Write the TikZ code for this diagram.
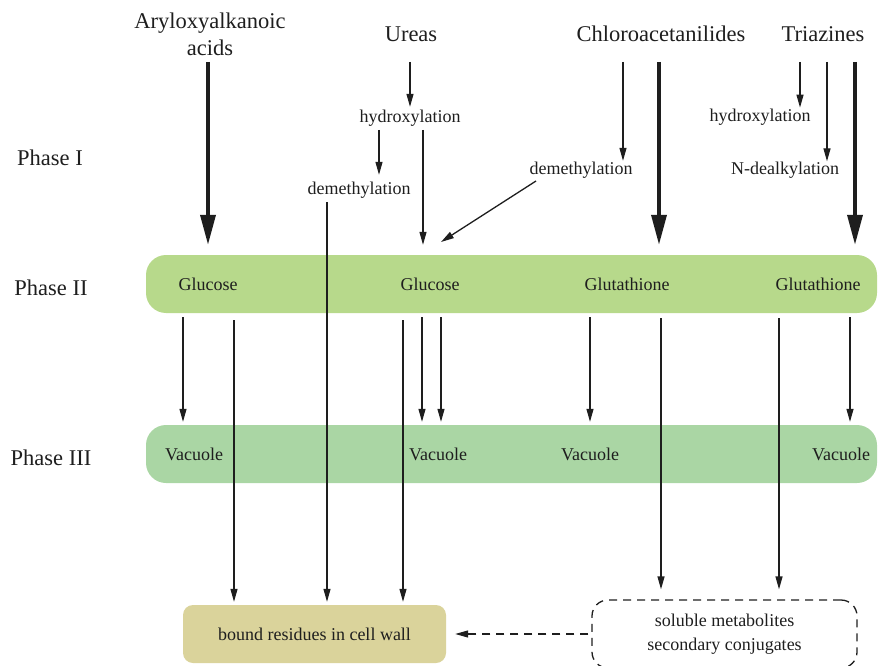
\documentclass[tikz,border=0pt]{standalone}
\usepackage{fontspec}
\setmainfont{Liberation Serif}
\usetikzlibrary{arrows.meta}
\definecolor{bandA}{HTML}{B7D98B}
\definecolor{bandB}{HTML}{AAD6A4}
\definecolor{boundc}{HTML}{DAD39B}
\definecolor{txt}{HTML}{1E1E1E}
\newcommand\bigf{\fontsize{22.5}{27}\selectfont}
\newcommand\smallf{\fontsize{18}{24}\selectfont}
\tikzset{
  biglabel/.style={font=\bigf, text=txt, inner sep=0pt, anchor=base},
  smalllabel/.style={font=\smallf, text=txt, inner sep=0pt, anchor=base},
  band/.style={rounded corners=20pt, minimum width=731pt, minimum height=58pt, inner sep=0pt},
  thinarr/.style={line width=1.3pt, draw=txt, -{Triangle[length=13pt,width=7pt]}},
  bigarr/.style={line width=3.6pt, draw=txt, -{Triangle[length=30pt,width=15pt]}},
  dasharr/.style={line width=1.3pt, draw=txt, dash pattern=on 8pt off 6pt, -{Triangle[length=13pt,width=7pt]}},
}
\begin{document}
\begin{tikzpicture}[x=1pt,y=-1pt]
\path[use as bounding box] (0,0) rectangle (878,666);

% bands
\node[band, fill=bandA] (p2) at (511.5,284) {};
\node[band, fill=bandB] (p3) at (511.5,454) {};
\node[rounded corners=10pt, fill=boundc, minimum width=263pt, minimum height=58pt, inner sep=0pt,
      font=\smallf, text=txt] (bound) at (314.5,634) {bound residues in cell wall};
\node[rounded corners=16pt, draw=txt, line width=1.3pt, dash pattern=on 8pt off 6pt,
      minimum width=265pt, minimum height=68pt, inner sep=0pt, align=center,
      font=\smallf, text=txt] (sol) at (724.5,634) {soluble metabolites\\secondary conjugates};

% top labels
\node[biglabel] (aryl1) at (210,29) {Aryloxyalkanoic};
\node[biglabel] (aryl2) at (210,56) {acids};
\node[biglabel] (ureas) at (411,42) {Ureas};
\node[biglabel] (chloro) at (661,42) {Chloroacetanilides};
\node[biglabel] (tri) at (823,42) {Triazines};

% phase labels
\node[biglabel] (ph1) at (50,165) {Phase I};
\node[biglabel] (ph2) at (51,295) {Phase II};
\node[biglabel] (ph3) at (51,465) {Phase III};

% phase I intermediates
\node[smalllabel] (hydA) at (410,123) {hydroxylation};
\node[smalllabel] (demA) at (359,194) {demethylation};
\node[smalllabel] (demB) at (581,175) {demethylation};
\node[smalllabel] (hydB) at (760,122) {hydroxylation};
\node[smalllabel] (ndeal) at (785,175) {N-dealkylation};

% band labels
\node[smalllabel] (glu1) at (208,290) {Glucose};
\node[smalllabel] (glu2) at (430,290) {Glucose};
\node[smalllabel] (gth1) at (627,290) {Glutathione};
\node[smalllabel] (gth2) at (818,290) {Glutathione};
\node[smalllabel] (vac1) at (194,460) {Vacuole};
\node[smalllabel] (vac2) at (438,460) {Vacuole};
\node[smalllabel] (vac3) at (590,460) {Vacuole};
\node[smalllabel] (vac4) at (841,460) {Vacuole};

% start coordinates
\coordinate (arylS) at (208,62);
\coordinate (chlT) at (659,62);
\coordinate (triC) at (855,62);
\coordinate (ureS) at (410,62);
\coordinate (chlS) at (623,62);
\coordinate (triA) at (800,62);
\coordinate (triB) at (827,62);
\coordinate (hA1) at (379,130);
\coordinate (hA2) at (423,130);
\coordinate (dA) at (327,202);
\coordinate (dB) at (536,181);
\coordinate (g2in) at (441,242);

% thick arrows
\draw[bigarr, shorten >=10pt] (arylS) -- (arylS |- p2.north);
\draw[bigarr, shorten >=10pt] (chlT) -- (chlT |- p2.north);
\draw[bigarr, shorten >=10pt] (triC) -- (triC |- p2.north);

% phase I thin arrows
\draw[thinarr, shorten >=3.5pt] (ureS) -- (ureS |- hydA.north);
\draw[thinarr, shorten >=6.5pt] (hA1) -- (hA1 |- demA.north);
\draw[thinarr, shorten >=10pt] (hA2) -- (hA2 |- p2.north);
\draw[thinarr, shorten >=3pt] (dA) -- (dA |- bound.north);
\draw[thinarr, shorten >=1.5pt] (chlS) -- (chlS |- demB.north);
\draw[thinarr] (dB) -- (g2in);
\draw[thinarr, shorten >=1.7pt] (triA) -- (triA |- hydB.north);
\draw[thinarr, shorten >=1pt] (triB) -- (triB |- ndeal.north);

% phase II -> phase III
\foreach \x in {183,422,441,590,850}
  \draw[thinarr, shorten <=4pt, shorten >=3pt] (\x,0 |- p2.south) -- (\x,0 |- p3.north);
% phase II -> bound residues
\foreach \x in {234,403}
  \draw[thinarr, shorten <=7pt, shorten >=3pt] (\x,0 |- p2.south) -- (\x,0 |- bound.north);
% phase II -> soluble
\foreach \x in {661,779}
  \draw[thinarr, shorten <=5pt, shorten >=10pt] (\x,0 |- p2.south) -- (\x,0 |- sol.north);

% soluble -> bound
\draw[dasharr, shorten <=3pt, shorten >=9pt] (sol.west) -- (bound.east);
\end{tikzpicture}
\end{document}
